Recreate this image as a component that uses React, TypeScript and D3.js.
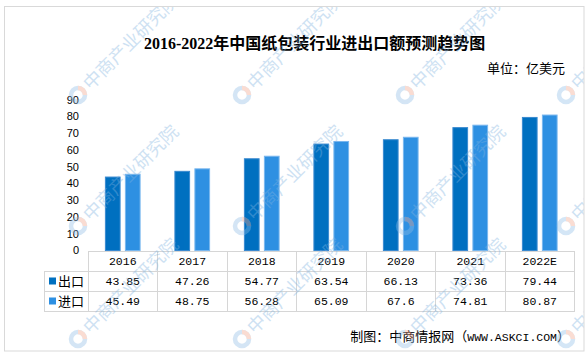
import React from 'react';
import * as d3 from 'd3';

// 2016-2022年中国纸包装行业进出口额 (亿美元)
const years = ['2016', '2017', '2018', '2019', '2020', '2021', '2022E'];
const exportValues = [43.85, 47.26, 54.77, 63.54, 66.13, 73.36, 79.44];
const importValues = [45.49, 48.75, 56.28, 65.09, 67.6, 74.81, 80.87];
const exportLabels = ['43.85', '47.26', '54.77', '63.54', '66.13', '73.36', '79.44'];
const importLabels = ['45.49', '48.75', '56.28', '65.09', '67.6', '74.81', '80.87'];
const seriesNames = ['出口', '进口'];
const seriesColors = ['#0070c0', '#2e90e2'];
const seriesStrokes = ['#3a8ad0', '#78b6ee'];

const W = 588;
const H = 359;

const wmRows = [95, 226, 339];
const wmCols = [78, 242, 405, 566];

const Watermark: React.FC<{ x: number; y: number }> = ({ x, y }) => (
  <g transform={`translate(${x},${y})`} opacity={0.38}>
    <circle r={7} fill="none" stroke="#8fbde6" strokeWidth={4.5} />
    <path d="M0,-7 A7,7 0 0 1 7,0" fill="none" stroke="#f2a58c" strokeWidth={4.5} />
    <text
      x={12}
      y={6}
      transform="rotate(-45)"
      fontSize={18}
      fontFamily="'Noto Sans CJK SC', sans-serif"
      fill="#7fb3e0"
    >中商产业研究院</text>
  </g>
);

const App: React.FC = () => {
  const x = d3.scaleBand<string>().domain(years).range([88, 574.5]).paddingInner(0).paddingOuter(0);
  const inner = d3.scaleBand<string>().domain(seriesNames).range([0, x.bandwidth()])
    .paddingInner(0.215).paddingOuter(0.845);
  const y = d3.scaleLinear().domain([0, 90]).range([250.5, 99.75]);
  const ticks = y.ticks(10);

  const tableTop = 251;
  const rowH = 20;
  const legendLeft = 44;
  const mono = "'Liberation Mono', monospace";
  const cjk = "'Noto Sans CJK SC', sans-serif";
  const grid = '#d6d6d6';
  const rows = [exportLabels, importLabels];
  const series = [exportValues, importValues];

  const colEdges = years.map(d => x(d)!).concat([x.range()[1]]);

  return (
    <svg width={W} height={H} style={{ position: 'absolute', left: 0, top: 0, background: '#fff' }}>
      <defs>
        <clipPath id="frame">
          <rect x={5} y={7} width={578.5} height={343.5} />
        </clipPath>
      </defs>
      <rect x={0} y={0} width={W} height={H} fill="#fff" />
      <rect x={4.5} y={6.5} width={579.5} height={344.5} fill="none" stroke="#d9d9d9" />

      <text x={144} y={49} fontSize={16} fontWeight="bold"
        fontFamily="'Liberation Serif', 'Noto Sans CJK SC', serif" fill="#000">
        2016-2022年中国纸包装行业进出口额预测趋势图
      </text>
      <text x={565} y={73} textAnchor="end" fontSize={13} fontFamily={cjk} fill="#000">单位：亿美元</text>

      {ticks.map(t => (
        <text key={t} x={79} y={y(t)} dy="0.35em" textAnchor="end" fontSize={11}
          fontFamily="'Liberation Sans', Arial, sans-serif" fill="#000">{t}</text>
      ))}

      {series.map((vals, si) => (
        <g key={si}>
          {vals.map((v, i) => (
            <rect key={i}
              x={x(years[i])! + inner(seriesNames[si])! + 0.5}
              y={y(v)}
              width={inner.bandwidth() - 1}
              height={y(0) - y(v)}
              fill={seriesColors[si]}
              stroke={seriesStrokes[si]}
              strokeWidth={1} />
          ))}
        </g>
      ))}

      {/* data table */}
      <g stroke={grid} strokeWidth={1} shapeRendering="crispEdges">
        <line x1={88} x2={574.5} y1={tableTop} y2={tableTop} />
        {[1, 2, 3].map(r => (
          <line key={r} x1={legendLeft} x2={574.5} y1={tableTop + r * rowH} y2={tableTop + r * rowH} />
        ))}
        <line x1={legendLeft} x2={legendLeft} y1={tableTop + rowH} y2={tableTop + 3 * rowH} />
        {colEdges.map((cx, i) => (
          <line key={i} x1={cx} x2={cx} y1={tableTop} y2={tableTop + 3 * rowH} />
        ))}
      </g>

      {years.map(d => (
        <text key={d} x={x(d)! + x.bandwidth() / 2} y={tableTop + rowH / 2} dy="0.36em"
          textAnchor="middle" fontSize={11.5} fontFamily={mono} fill="#000">{d}</text>
      ))}
      {rows.map((labels, ri) => (
        <g key={ri}>
          <rect x={49} y={tableTop + (ri + 1) * rowH + 6.5} width={7} height={7} fill={seriesColors[ri]} />
          <text x={58} y={tableTop + (ri + 1.5) * rowH} dy="0.36em" fontSize={13} fontFamily={cjk} fill="#000">
            {seriesNames[ri]}
          </text>
          {labels.map((l, i) => (
            <text key={i} x={x(years[i])! + x.bandwidth() / 2} y={tableTop + (ri + 1.5) * rowH} dy="0.36em"
              textAnchor="middle" fontSize={11.5} fontFamily={mono} fill="#000">{l}</text>
          ))}
        </g>
      ))}

      <text x={570} y={341} textAnchor="end" fontSize={13} fontFamily={cjk} fill="#000">
        制图：中商情报网（<tspan fontFamily={mono} fontSize={11.5}>WWW.ASKCI.COM</tspan>）
      </text>

      <g clipPath="url(#frame)">
        {wmRows.map(ry => wmCols.map(cx => <Watermark key={`${ry}-${cx}`} x={cx} y={ry} />))}
      </g>
    </svg>
  );
};

export default App;
